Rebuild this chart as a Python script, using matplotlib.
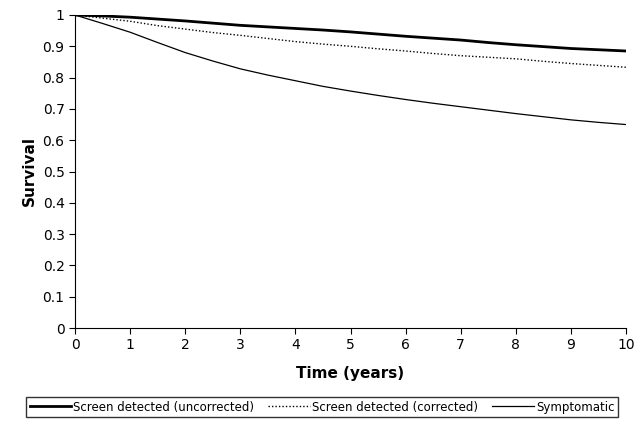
import matplotlib.pyplot as plt

years = [0, 0.5, 1, 1.5, 2, 2.5, 3, 3.5, 4, 4.5, 5, 5.5, 6, 6.5, 7, 7.5, 8, 8.5, 9, 9.5, 10]
uncorrected = [1, 0.997, 0.993, 0.987, 0.981, 0.974, 0.967, 0.962, 0.957, 0.952, 0.946, 0.939, 0.932, 0.926, 0.920, 0.912, 0.905, 0.899, 0.893, 0.889, 0.885]
corrected = [1, 0.99, 0.98, 0.966, 0.955, 0.944, 0.935, 0.925, 0.915, 0.907, 0.9, 0.892, 0.885, 0.877, 0.87, 0.865, 0.86, 0.852, 0.845, 0.839, 0.833]
symptomatic = [1, 0.973, 0.945, 0.912, 0.88, 0.853, 0.828, 0.808, 0.79, 0.772, 0.757, 0.743, 0.73, 0.718, 0.707, 0.696, 0.685, 0.675, 0.665, 0.657, 0.65]

fig = plt.figure(figsize=(6.44, 4.28), dpi=100)
ax = fig.add_axes([75/644, 1-328/428, 551/644, 313/428])
ax.plot(years, uncorrected, color='black', lw=2, label='Screen detected (uncorrected)')
ax.plot(years, corrected, color='black', lw=1, ls=(0, (1, 1.5)), label='Screen detected (corrected)')
ax.plot(years, symptomatic, color='black', lw=0.9, label='Symptomatic')
ax.set_xlim(0, 10)
ax.set_ylim(0, 1)
ax.set_xticks(range(11))
ax.set_yticks([i/10 for i in range(11)])
ax.set_yticklabels(['0'] + ['%.1f' % (i/10) for i in range(1, 10)] + ['1'])
for s in ['top', 'right']:
    ax.spines[s].set_visible(False)
ax.tick_params(labelsize=10, direction='out', length=4)
ax.set_xlabel('Time (years)', fontsize=11, fontweight='bold', labelpad=10)
ax.set_ylabel('Survival', fontsize=11, fontweight='bold')
fig.legend(loc='center', bbox_to_anchor=(0.5, 1-407/428), ncol=3, fontsize=8.5,
           frameon=True, fancybox=False, edgecolor='black', handlelength=3.5,
           columnspacing=1.2, handletextpad=0.2, borderpad=0.3)
fig.savefig('out.png', dpi=100)
